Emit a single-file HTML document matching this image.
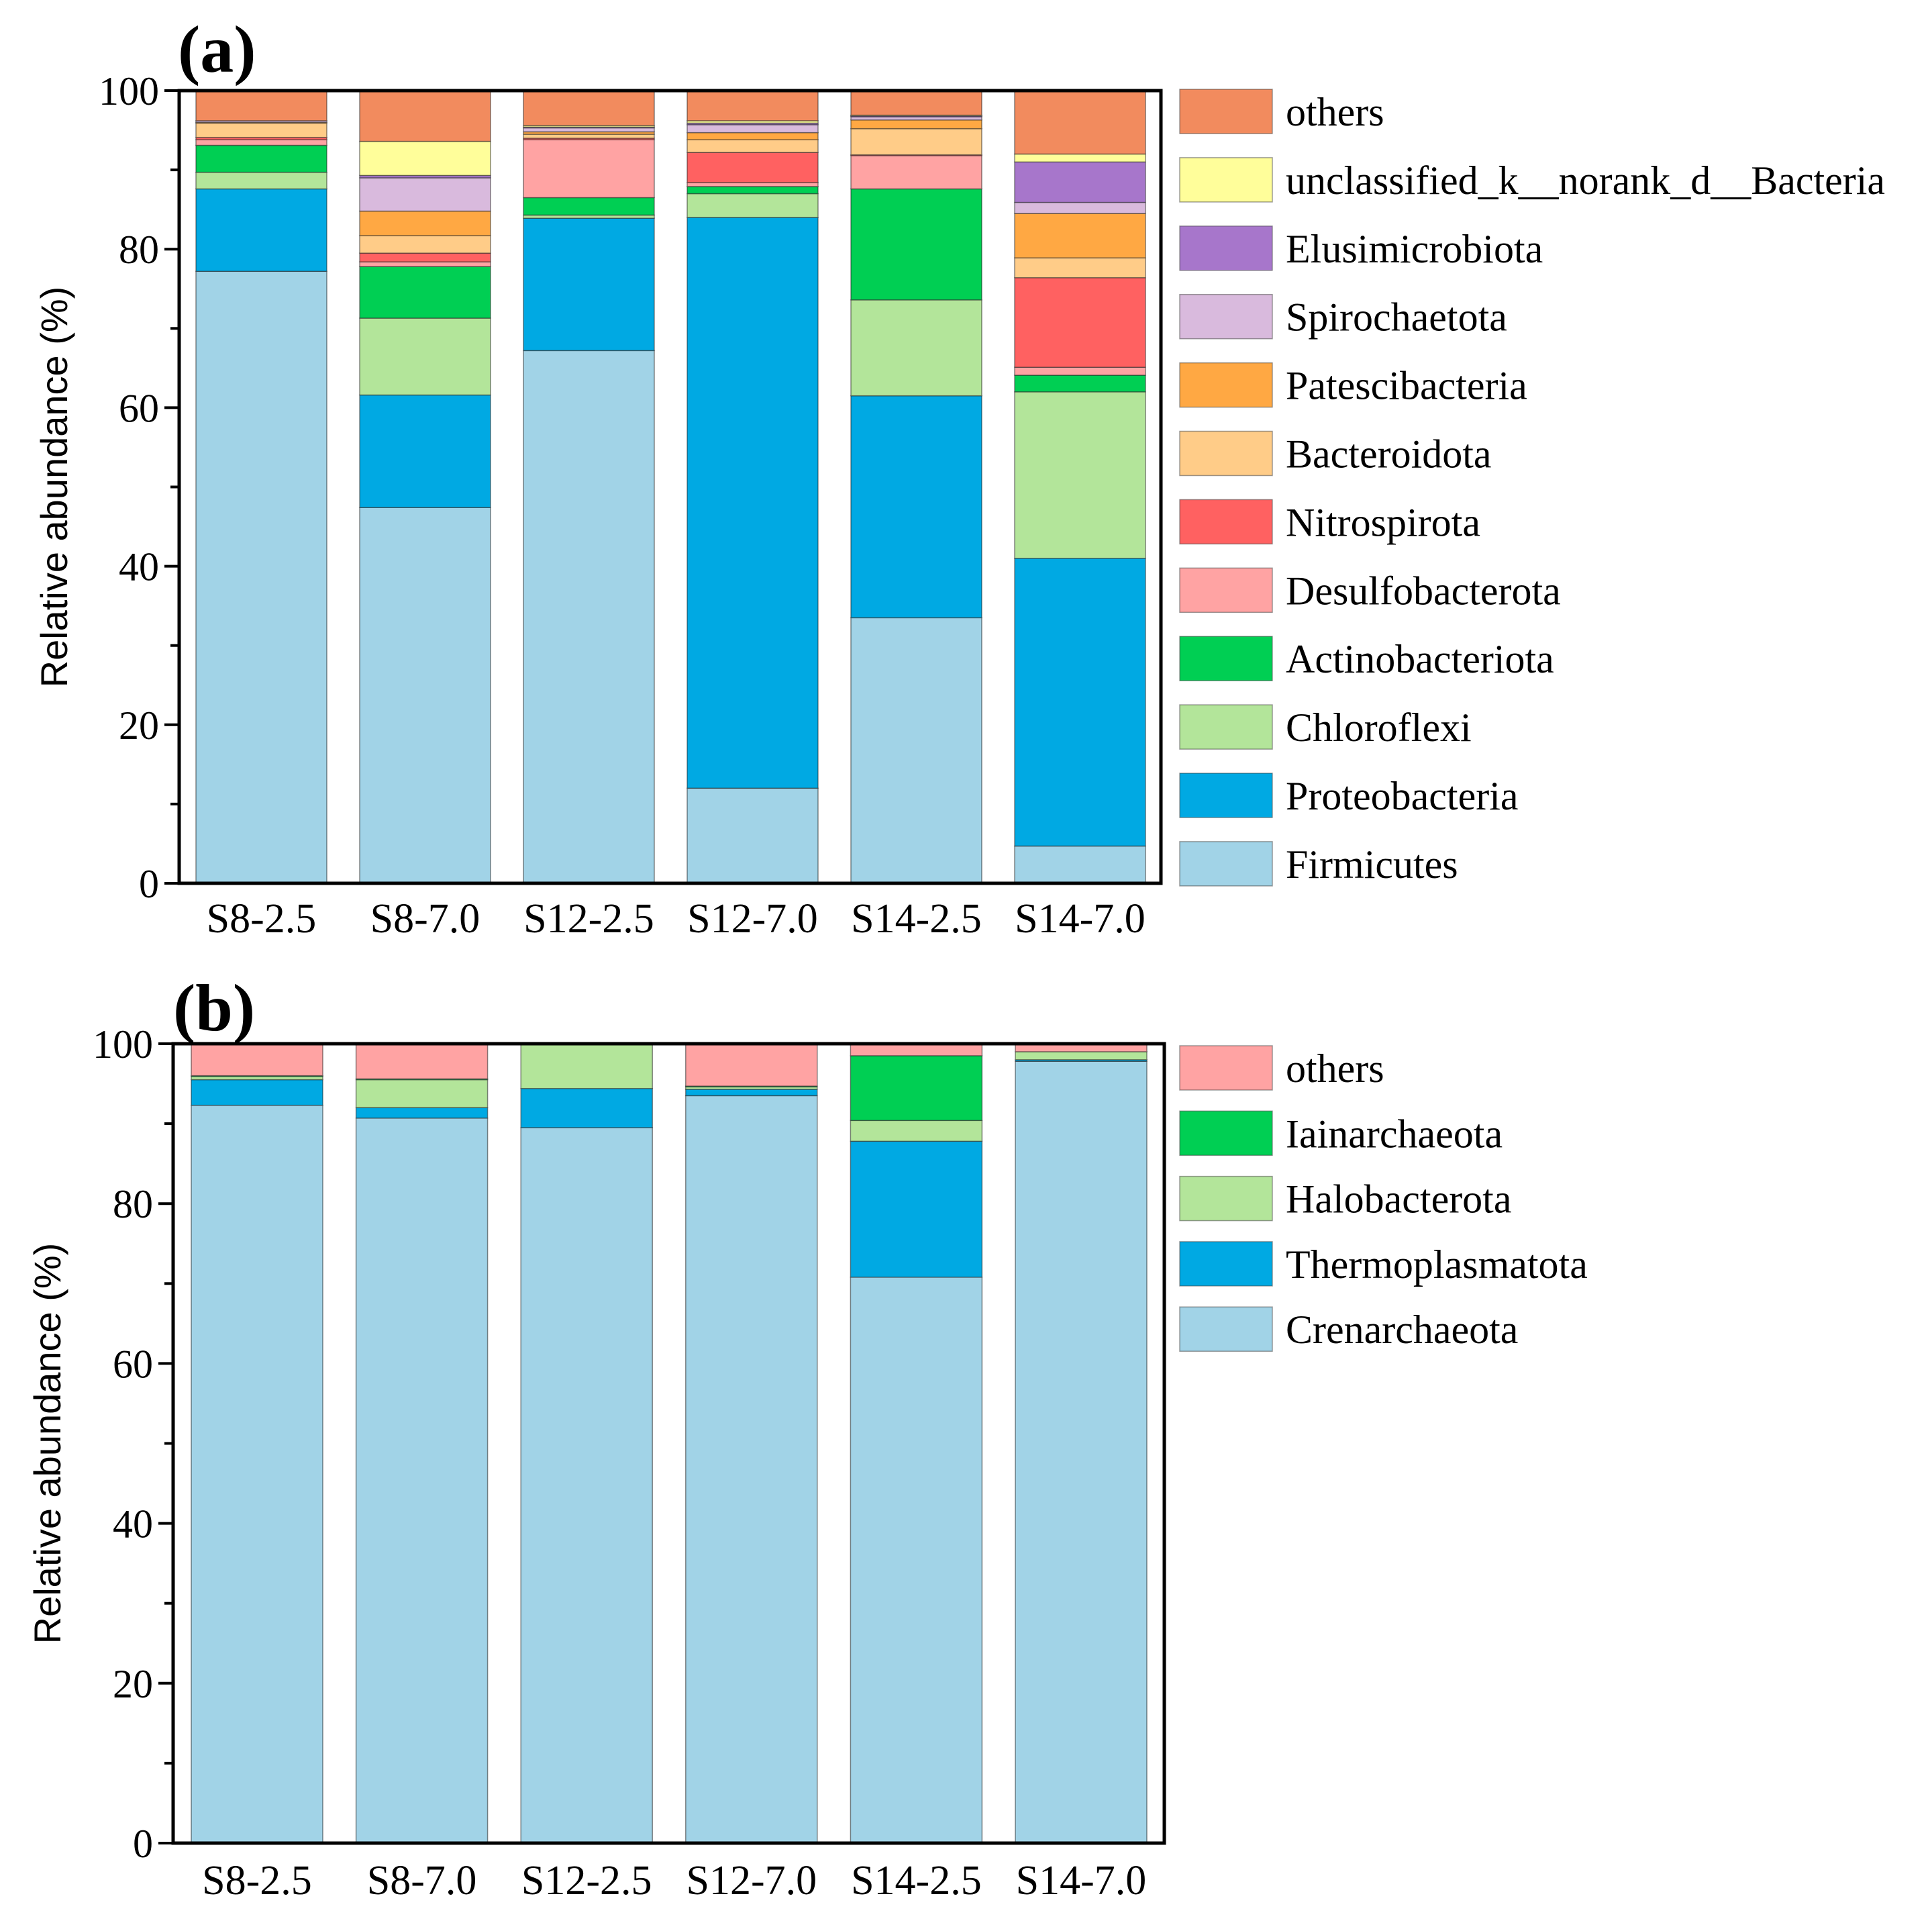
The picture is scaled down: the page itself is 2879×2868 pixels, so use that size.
<!DOCTYPE html>
<html><head><meta charset="utf-8"><style>
html,body{margin:0;padding:0;background:#fff;}
svg{display:block;font-family:"Liberation Serif","DejaVu Serif",serif;}
</style></head><body>
<svg id="fig" width="2879" height="2868" viewBox="0 0 2879 2868"></svg>
<script>
const samples = ["S8-2.5","S8-7.0","S12-2.5","S12-7.0","S14-2.5","S14-7.0"];
const yTicks = [0,20,40,60,80,100];
// Panel (a) bacteria, bottom to top
const taxaA = ["Firmicutes","Proteobacteria","Chloroflexi","Actinobacteriota","Desulfobacterota","Nitrospirota","Bacteroidota","Patescibacteria","Spirochaetota","Elusimicrobiota","unclassified_k__norank_d__Bacteria","others"];
const colorsA = ["#A1D3E7","#00A9E3","#B3E59A","#00CF53","#FFA3A3","#FF6161","#FFCC88","#FFA843","#D9BADD","#A776CB","#FFFE9A","#F28B5E"];
const firmicutes = [77.2,47.4,67.2,12.0,33.5,4.7];
const proteobacteria = [10.4,14.2,16.7,72.0,28.0,36.3];
const chloroflexi = [2.1,9.7,0.4,3.0,12.1,21.0];
const actinobacteriota = [3.4,6.5,2.2,0.9,14.0,2.1];
const desulfobacterota = [0.7,0.6,7.3,0.5,4.2,1.0];
const nitrospirota = [0.3,1.1,0.2,3.8,0.1,11.3];
const bacteroidota = [1.8,2.2,0.5,1.6,3.3,2.5];
const patescibacteria = [0.1,3.1,0.3,0.9,1.1,5.6];
const spirochaetota = [0.2,4.2,0.5,1.0,0.4,1.4];
const elusimicrobiota = [0.0,0.3,0.1,0.2,0.1,5.1];
const unclassifiedBacteria = [0.0,4.3,0.2,0.3,0.1,1.0];
const othersA = [3.8,6.4,4.4,3.8,3.1,8.0];
const seriesA = [firmicutes,proteobacteria,chloroflexi,actinobacteriota,desulfobacterota,nitrospirota,bacteroidota,patescibacteria,spirochaetota,elusimicrobiota,unclassifiedBacteria,othersA];
// Panel (b) archaea, bottom to top
const taxaB = ["Crenarchaeota","Thermoplasmatota","Halobacterota","Iainarchaeota","others"];
const colorsB = ["#A1D3E7","#00A9E3","#B3E59A","#00CF53","#FFA3A3"];
const crenarchaeota = [92.3,90.7,89.5,93.5,70.8,97.8];
const thermoplasmatota = [3.2,1.3,4.9,0.8,17.0,0.2];
const halobacterota = [0.4,3.5,5.6,0.3,2.6,1.0];
const iainarchaeota = [0.1,0.1,0.0,0.1,8.1,0.0];
const othersB = [4.0,4.4,0.0,5.3,1.5,1.0];
const seriesB = [crenarchaeota,thermoplasmatota,halobacterota,iainarchaeota,othersB];

const NS="http://www.w3.org/2000/svg";
const svg=document.getElementById('fig');
function el(tag,attrs,parent){const e=document.createElementNS(NS,tag);for(const k in attrs)e.setAttribute(k,attrs[k]);(parent||svg).appendChild(e);return e;}

function panel(p){
  const g=el('g',{});
  
  
  const yS=v=>p.y0+(p.y100-p.y0)*v/100;
  const xS=i=>p.bx0+i*p.pitch;
  samples.forEach((s,i)=>{
    let cum=0;
    p.series.forEach((arr,k)=>{
      const v=arr[i]; if(v<=0){return;}
      const yt=yS(cum+v), yb=yS(cum);
      const r=el('rect',{x:xS(i),y:yt,width:p.bw,height:yb-yt,fill:p.colors[k],stroke:'rgba(40,40,40,0.55)','stroke-width':1.5},g);
      
      
      cum+=v;
    });
    const t=el('text',{x:xS(i)+p.bw/2,y:p.xlabY,'font-size':62,'text-anchor':'middle',fill:'#000'},g);
    t.textContent=s;
    
    
  });
  const f=el('rect',{x:p.L,y:p.y100,width:p.R-p.L,height:p.y0-p.y100,fill:'none',stroke:'#000','stroke-width':5},g);
  
  
  for(let v=0;v<=100;v+=10){
    const major=v%20===0;
    el('line',{x1:p.L-(major?22:13),x2:p.L,y1:yS(v),y2:yS(v),stroke:'#000','stroke-width':4},g);
  }
  yTicks.forEach(v=>{
    const t=el('text',{x:p.L-30,y:yS(v)+21,'font-size':60,'text-anchor':'end'},g);
    t.textContent=v;
    
    
  });
  const yt=el('text',{x:0,y:0,'font-size':56,'text-anchor':'middle',transform:`translate(${p.ytX},${(p.y0+p.y100)/2}) rotate(-90)`,'font-family':'"Liberation Sans",sans-serif'},g);
  yt.textContent='Relative abundance (%)';
  
  
  const pl=el('text',{x:p.labX,y:p.labY,'font-size':100,'font-weight':'bold'},g);
  pl.textContent=p.label;
  
  
  const n=p.taxa.length;
  for(let j=0;j<n;j++){
    const k=n-1-j;
    const yy=p.legY+j*p.legStep;
    const sw=el('rect',{x:p.legX,y:yy-33,width:138,height:66,fill:p.colors[k],stroke:'rgba(60,60,60,0.5)','stroke-width':1.5},g);
    
    
    const lt=el('text',{x:p.legX+158,y:yy+21,'font-size':60},g);
    lt.textContent=p.taxa[k];
    
    
  }
}
panel({name:'bacteria',series:seriesA,colors:colorsA,taxa:taxaA,L:267,R:1730,y100:135,y0:1316,bx0:292,pitch:244,bw:195,xlabY:1389,ytX:100,labX:265,labY:107,label:'(a)',legX:1758,legY:166,legStep:101.9});
panel({name:'archaea',series:seriesB,colors:colorsB,taxa:taxaB,L:258,R:1735,y100:1555,y0:2746,bx0:285,pitch:245.6,bw:196,xlabY:2822,ytX:90,labX:258,labY:1535,label:'(b)',legX:1758,legY:1591,legStep:97.3});
</script>
</body></html>
